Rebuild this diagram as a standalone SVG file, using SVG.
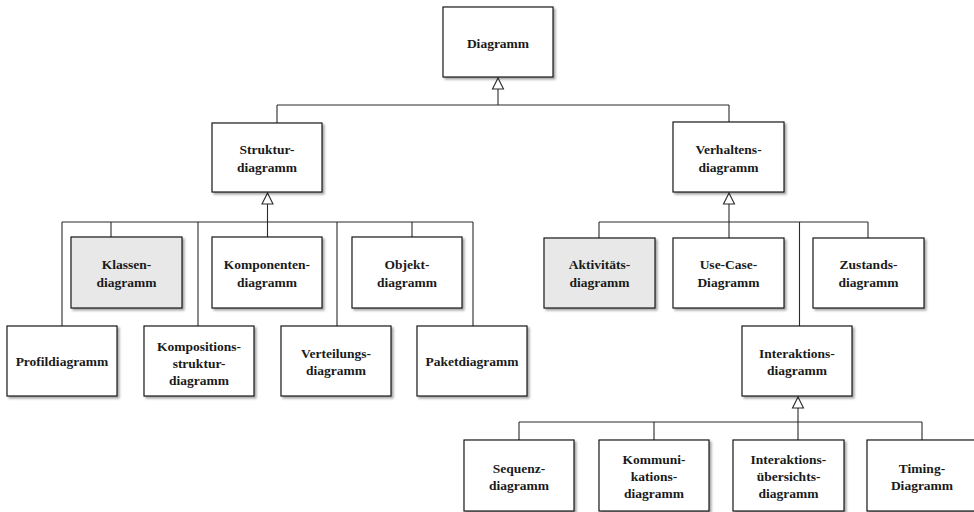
<svg xmlns="http://www.w3.org/2000/svg" width="974" height="512" viewBox="0 0 974 512">
<style>
.box{fill:#fff;stroke:#1a1a1a;stroke-width:1.2;filter:url(#sh)}
.hl{fill:#e8e8e8}
.t{font-family:"Liberation Serif","Times New Roman",serif;font-weight:bold;font-size:13.5px;fill:#1a1a1a;text-anchor:middle}
.c{fill:none;stroke:#2a2a2a;stroke-width:1.1}
.tri{fill:#fff;stroke:#2a2a2a;stroke-width:1.1}
</style>
<defs>
<filter id="sh" x="-10%" y="-10%" width="130%" height="130%">
<feDropShadow dx="2" dy="2" stdDeviation="1" flood-color="#000" flood-opacity="0.35"/>
</filter>
</defs>
<rect width="974" height="512" fill="#fff"/>
<g id="connectors">
<path class="c" d="M498 89V105M277 105H729M277 105V123M729 105V122"/>
<polygon class="tri" points="498,78 492.5,89 503.5,89"/>
<path class="c" d="M267.5 204V222M62 222H473M62 222V326M111 222V237M198 222V326M267.5 222V237M337 222V326M412 222V237M473 222V326"/>
<polygon class="tri" points="267.5,193 262,204 273,204"/>
<path class="c" d="M729 204V222M599 222H868M599 222V238M729 222V238M799.5 222V326M868 222V238"/>
<polygon class="tri" points="729,193 723.5,204 734.5,204"/>
<path class="c" d="M798 408V422M519 422H922M519 422V440M654 422V440M798 422V440M922 422V440"/>
<polygon class="tri" points="798,397 792.5,408 803.5,408"/>
</g>
<g id="n-diagramm"><rect class="box" x="443" y="7" width="110" height="70"/><text class="t" x="498" y="47.5">Diagramm</text></g>
<g id="n-struktur"><rect class="box" x="212" y="123" width="110" height="69"/><text class="t" x="267" y="154">Struktur-</text><text class="t" x="267" y="172">diagramm</text></g>
<g id="n-verhalten"><rect class="box" x="673" y="122" width="111" height="70"/><text class="t" x="728.5" y="153.5">Verhaltens-</text><text class="t" x="728.5" y="171.5">diagramm</text></g>
<g id="n-klassen"><rect class="box hl" x="71" y="237" width="111" height="71"/><text class="t" x="126.5" y="269">Klassen-</text><text class="t" x="126.5" y="287">diagramm</text></g>
<g id="n-komponenten"><rect class="box" x="212" y="237" width="110" height="71"/><text class="t" x="267" y="269">Komponenten-</text><text class="t" x="267" y="287">diagramm</text></g>
<g id="n-objekt"><rect class="box" x="352" y="237" width="110" height="71"/><text class="t" x="407" y="269">Objekt-</text><text class="t" x="407" y="287">diagramm</text></g>
<g id="n-profil"><rect class="box" x="7" y="326" width="110" height="70"/><text class="t" x="62" y="366">Profildiagramm</text></g>
<g id="n-kompositions"><rect class="box" x="144" y="326" width="110" height="70"/><text class="t" x="199" y="351">Kompositions-</text><text class="t" x="199" y="368">struktur-</text><text class="t" x="199" y="385">diagramm</text></g>
<g id="n-verteilung"><rect class="box" x="281" y="326" width="110" height="70"/><text class="t" x="336" y="357.5">Verteilungs-</text><text class="t" x="336" y="375">diagramm</text></g>
<g id="n-paket"><rect class="box" x="417" y="326" width="110" height="70"/><text class="t" x="472" y="366">Paketdiagramm</text></g>
<g id="n-aktivitaet"><rect class="box hl" x="544" y="238" width="111" height="70"/><text class="t" x="599.5" y="269">Aktivitäts-</text><text class="t" x="599.5" y="287">diagramm</text></g>
<g id="n-usecase"><rect class="box" x="673" y="238" width="111" height="70"/><text class="t" x="728.5" y="269">Use-Case-</text><text class="t" x="728.5" y="287">Diagramm</text></g>
<g id="n-zustand"><rect class="box" x="813" y="238" width="111" height="70"/><text class="t" x="868.5" y="269">Zustands-</text><text class="t" x="868.5" y="287">diagramm</text></g>
<g id="n-interaktion"><rect class="box" x="742" y="326" width="110" height="70"/><text class="t" x="797" y="357.5">Interaktions-</text><text class="t" x="797" y="375">diagramm</text></g>
<g id="n-sequenz"><rect class="box" x="464" y="440" width="110" height="71"/><text class="t" x="519" y="472.5">Sequenz-</text><text class="t" x="519" y="490">diagramm</text></g>
<g id="n-kommunikation"><rect class="box" x="599" y="440" width="110" height="71"/><text class="t" x="654" y="463.5">Kommuni-</text><text class="t" x="654" y="480.5">kations-</text><text class="t" x="654" y="497.5">diagramm</text></g>
<g id="n-uebersicht"><rect class="box" x="733" y="440" width="111" height="71"/><text class="t" x="788.5" y="463.5">Interaktions-</text><text class="t" x="788.5" y="480.5">übersichts-</text><text class="t" x="788.5" y="497.5">diagramm</text></g>
<g id="n-timing"><rect class="box" x="867" y="440" width="110" height="71"/><text class="t" x="922" y="472.5">Timing-</text><text class="t" x="922" y="490">Diagramm</text></g>
</svg>
